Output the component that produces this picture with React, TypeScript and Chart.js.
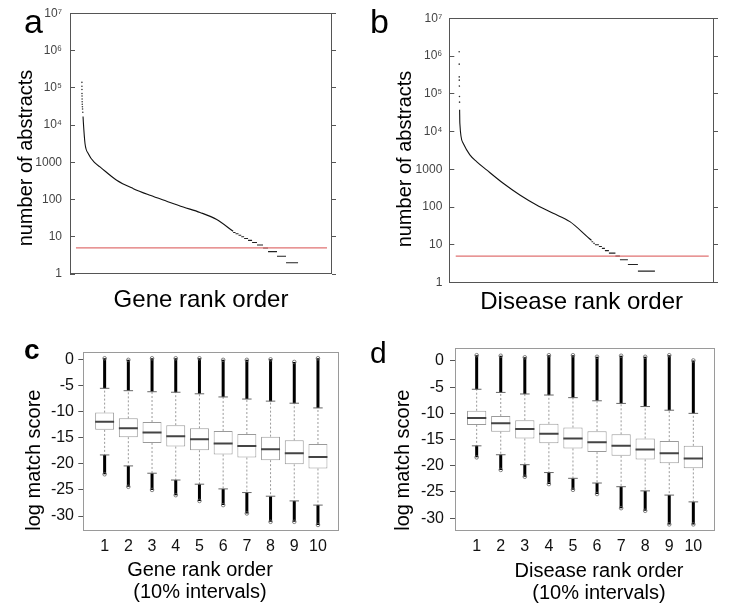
import React, { useEffect, useRef } from 'react';
import { Chart, registerables } from 'chart.js';

Chart.register(...registerables);

const FONT = "'Liberation Sans', Arial, Helvetica, sans-serif";
Chart.defaults.font.family = FONT;
Chart.defaults.color = '#000';

// ---------- panel a: genes, number of abstracts by rank ----------
const geneTopRanks = [1, 2, 4, 7, 11, 16, 22, 30, 40, 55, 75];
const geneTopCounts = [140000, 110000, 90000, 70000, 60000, 50000, 42000, 36000, 31000, 27000, 22000];
const geneCurveRanks = [95, 120, 260, 540, 1100, 1520, 2920, 4320, 5720, 7120, 8510, 9920, 11320, 12700];
const geneCurveCounts = [17000, 12000, 3200, 1700, 960, 750, 330, 196, 130, 90, 63, 45, 29, 14];
const geneStepStarts = [12700, 12900, 13150, 13380, 13620, 13950, 14290, 14700, 15210, 15630, 16380, 17140];
const geneStepCounts = [13, 12, 11, 10, 9, 8, 7, 6, 5, 4, 3, 2];
const geneLastRank = 18150;
const geneRankRange = [-1000, 21000];
const geneThresholdSpan = [-500, 20580];

// ---------- panel b: diseases, number of abstracts by rank ----------
const diseaseTopRanks = [1, 2, 3, 4, 6, 9, 11];
const diseaseTopCounts = [1300000, 610000, 280000, 230000, 160000, 85000, 60000];
const diseaseCurveRanks = [13, 19, 107, 284, 461, 726, 1165, 1606, 2048, 2487, 2929, 3371, 3500];
const diseaseCurveCounts = [38000, 16600, 4900, 2400, 1600, 960, 425, 208, 113, 68, 41, 17, 13];
const diseaseStepStarts = [3500, 3545, 3590, 3696, 3775, 3855, 3961, 4133, 4252, 4463, 4728];
const diseaseStepCounts = [12, 11, 10, 9, 8, 7, 6, 5, 4, 3, 2];
const diseaseLastRank = 5178;
const diseaseRankRange = [-260, 6740];
const diseaseThresholdSpan = [-90, 6600];

const thresholdCount = 5;
const abstractTicks = [1, 10, 100, 1000, 10000, 100000, 1000000, 10000000];
const abstractTickLabels = ['1', '10', '100', '1000', '10⁴', '10⁵', '10⁶', '10⁷'];

// ---------- panels c, d: log match score by rank decile ----------
const deciles = [1, 2, 3, 4, 5, 6, 7, 8, 9, 10];
const scoreTicks = [-30, -25, -20, -15, -10, -5, 0];

const geneQ1 = [-13.5, -14.9, -16.0, -16.7, -17.4, -18.2, -18.8, -19.3, -20.1, -20.9];
const geneMedian = [-11.95, -13.2, -14.0, -14.7, -15.3, -16.1, -16.6, -17.2, -18.0, -18.7];
const geneQ3 = [-10.2, -11.3, -12.0, -12.6, -13.2, -13.7, -14.3, -14.8, -15.5, -16.2];
const geneWhiskerLow = [-18.3, -20.4, -21.8, -23.1, -23.9, -24.8, -25.5, -26.2, -27.1, -27.9];
const geneWhiskerHigh = [-5.55, -6.0, -6.2, -6.3, -6.6, -7.2, -7.6, -8.0, -8.4, -9.3];
const geneOutMin = [-22.0, -24.4, -25.0, -26.0, -27.1, -27.9, -29.5, -31.1, -31.1, -31.7];
const geneOutMax = [0.2, -0.1, 0.2, 0.2, 0.2, -0.1, -0.1, 0.0, -0.5, 0.2];
const geneScoreRange = [-32.8, 1.46];

const diseaseQ1 = [-12.2, -13.5, -14.8, -15.7, -16.7, -17.4, -18.1, -18.8, -19.5, -20.5];
const diseaseMedian = [-10.9, -11.9, -13.0, -13.9, -14.8, -15.5, -16.2, -16.9, -17.6, -18.6];
const diseaseQ3 = [-9.5, -10.5, -11.3, -12.0, -12.7, -13.4, -14.0, -14.8, -15.3, -16.2];
const diseaseWhiskerLow = [-16.2, -17.9, -19.8, -21.3, -22.4, -23.3, -24.0, -24.8, -25.6, -26.9];
const diseaseWhiskerHigh = [-5.4, -6.0, -6.3, -6.5, -7.0, -7.6, -8.1, -8.7, -9.4, -10.0];
const diseaseOutMin = [-18.4, -20.8, -22.1, -23.5, -24.6, -25.4, -28.1, -28.6, -31.2, -31.2];
const diseaseOutMax = [1.1, 1.0, 0.7, 1.1, 1.1, 0.8, 1.0, 0.8, 1.1, 0.1];
const diseaseScoreRange = [-32.4, 2.42];

const BOX_HALF = 0.4;
const CAP_HALF = 0.2;

// ---------- helpers ----------
const toPoints = (xs: number[], ys: number[]) => xs.map((x, i) => ({ x, y: ys[i] }));

function stepSegments(starts: number[], counts: number[], lastRank: number) {
  const out: any[] = [];
  counts.forEach((v, i) => {
    const end = i + 1 < starts.length ? starts[i + 1] : lastRank;
    out.push({ x: starts[i], y: v }, { x: end, y: v }, { x: end, y: null });
  });
  return out;
}

const noPad = (s: any) => {
  s.paddingTop = 0;
  s.paddingBottom = 0;
  s.paddingLeft = 0;
  s.paddingRight = 0;
};

const framePlugin = {
  id: 'frame',
  afterDatasetsDraw(chart: any, _args: any, opts: any) {
    const { ctx, chartArea: a } = chart;
    ctx.save();
    ctx.strokeStyle = opts.color;
    ctx.lineWidth = 1;
    const l = Math.round(a.left) + 0.5;
    const t = Math.round(a.top) + 0.5;
    const r = Math.round(a.right) - 0.5;
    const b = Math.round(a.bottom) - 0.5;
    ctx.strokeRect(l, t, r - l, b - t);
    ctx.restore();
  },
};

// panel letters and free-standing titles
const textPlugin = {
  id: 'texts',
  afterDraw(chart: any, _args: any, opts: any) {
    const ctx = chart.ctx;
    (opts.items || []).forEach((it: any) => {
      ctx.save();
      ctx.font = it.font;
      ctx.fillStyle = '#000';
      ctx.textBaseline = it.baseline || 'middle';
      ctx.textAlign = it.align || 'center';
      ctx.translate(it.x, it.y);
      if (it.rotate) ctx.rotate(it.rotate);
      ctx.fillText(it.text, 0, 0);
      ctx.restore();
    });
  },
};

function rankConfig(p: any) {
  return {
    type: 'scatter',
    data: {
      datasets: [
        {
          label: 'threshold',
          data: [
            { x: p.thresholdSpan[0], y: thresholdCount },
            { x: p.thresholdSpan[1], y: thresholdCount },
          ],
          showLine: true,
          borderColor: '#e07272',
          borderWidth: 1.2,
          pointRadius: 0,
          yAxisID: 'y',
        },
        {
          label: 'top ranks',
          data: toPoints(p.topRanks, p.topCounts),
          showLine: false,
          pointRadius: 0.8,
          pointBackgroundColor: '#333',
          pointBorderWidth: 0,
          yAxisID: 'y',
        },
        {
          label: 'curve',
          data: toPoints(p.curveRanks, p.curveCounts),
          showLine: true,
          cubicInterpolationMode: 'monotone',
          borderColor: '#111',
          borderWidth: 1.1,
          pointRadius: 0,
          yAxisID: 'y',
        },
        {
          label: 'steps',
          data: stepSegments(p.stepStarts, p.stepCounts, p.lastRank),
          showLine: true,
          spanGaps: false,
          borderColor: '#222',
          borderWidth: 1.1,
          pointRadius: 0,
          yAxisID: 'y',
        },
      ],
    },
    options: {
      responsive: false,
      animation: false,
      events: [],
      layout: { padding: { top: p.padTop, left: 0, right: 0, bottom: 0 } },
      plugins: {
        legend: { display: false },
        tooltip: { enabled: false },
        frame: { color: '#555' },
        texts: { items: p.texts },
      },
      scales: {
        x: {
          type: 'linear',
          min: p.range[0],
          max: p.range[1],
          ticks: { display: false },
          grid: { display: false },
          border: { display: false },
          title: {
            display: true,
            text: p.xTitle,
            font: { size: 24 },
            color: '#000',
            padding: { top: 0, bottom: p.xTitlePad },
          },
          afterFit: (s: any) => {
            s.height = p.xAxisHeight;
            noPad(s);
          },
        },
        y: {
          type: 'logarithmic',
          position: 'left',
          min: 1,
          max: 10000000,
          afterBuildTicks: (s: any) => {
            s.ticks = abstractTicks.map((v) => ({ value: v }));
          },
          ticks: {
            callback: (_v: any, i: number) => abstractTickLabels[i],
            font: { size: 12 },
            color: '#444',
            padding: p.tickPadding,
            autoSkip: false,
          },
          grid: { drawOnChartArea: false, tickLength: -5, color: '#555' },
          border: { display: false },
          afterFit: (s: any) => {
            s.width = p.yAxisWidth;
            noPad(s);
          },
        },
        yR: {
          type: 'logarithmic',
          position: 'right',
          min: 1,
          max: 10000000,
          afterBuildTicks: (s: any) => {
            s.ticks = abstractTicks.map((v) => ({ value: v }));
          },
          ticks: { display: false },
          grid: { drawOnChartArea: false, tickLength: 4, color: '#555' },
          border: { display: false },
          afterFit: (s: any) => {
            s.width = p.rightAxisWidth;
            noPad(s);
          },
        },
      },
    },
    plugins: [framePlugin, textPlugin],
  };
}

function boxConfig(p: any) {
  const medians: any[] = [];
  const caps: any[] = [];
  const whiskers: any[] = [];
  const bands: any[] = [];
  const extremes: any[] = [];
  deciles.forEach((d, i) => {
    medians.push({ x: d - BOX_HALF, y: p.median[i] }, { x: d + BOX_HALF, y: p.median[i] }, { x: d + BOX_HALF, y: null });
    caps.push(
      { x: d - CAP_HALF, y: p.whiskerHigh[i] }, { x: d + CAP_HALF, y: p.whiskerHigh[i] }, { x: d + CAP_HALF, y: null },
      { x: d - CAP_HALF, y: p.whiskerLow[i] }, { x: d + CAP_HALF, y: p.whiskerLow[i] }, { x: d + CAP_HALF, y: null },
    );
    whiskers.push(
      { x: d, y: p.q3[i] }, { x: d, y: p.whiskerHigh[i] }, { x: d, y: null },
      { x: d, y: p.q1[i] }, { x: d, y: p.whiskerLow[i] }, { x: d, y: null },
    );
    bands.push(
      { x: d, y: p.whiskerHigh[i] }, { x: d, y: p.outMax[i] }, { x: d, y: null },
      { x: d, y: p.outMin[i] }, { x: d, y: p.whiskerLow[i] }, { x: d, y: null },
    );
    extremes.push({ x: d, y: p.outMax[i] }, { x: d, y: p.outMin[i] });
  });
  const line = (label: string, data: any[], extra: any) => ({
    type: 'line',
    label,
    data,
    spanGaps: false,
    pointRadius: 0,
    fill: false,
    ...extra,
  });
  return {
    type: 'bar',
    data: {
      datasets: [
        line('median', medians, { borderColor: '#444', borderWidth: 2 }),
        line('caps', caps, { borderColor: '#666', borderWidth: 1 }),
        {
          type: 'bar',
          label: 'IQR',
          data: deciles.map((d, i) => ({ x: d, y: [p.q1[i], p.q3[i]] })),
          backgroundColor: '#fff',
          borderColor: '#9a9a9a',
          borderWidth: 1,
          borderSkipped: false,
          barPercentage: 0.8,
          categoryPercentage: 1,
        },
        line('extremes', extremes, {
          showLine: false,
          pointRadius: 1.8,
          pointBorderWidth: 0.8,
          pointBorderColor: '#666',
          pointBackgroundColor: 'rgba(0,0,0,0)',
        }),
        line('outliers', bands, { borderColor: '#000', borderWidth: 3 }),
        line('whiskers', whiskers, { borderColor: '#9a9a9a', borderWidth: 1, borderDash: [2, 2] }),
      ],
    },
    options: {
      responsive: false,
      animation: false,
      events: [],
      layout: { padding: { top: p.padTop, right: p.padRight, left: 0, bottom: 0 } },
      plugins: {
        legend: { display: false },
        tooltip: { enabled: false },
        frame: { color: '#9a9a9a' },
        texts: { items: p.texts },
      },
      scales: {
        x: {
          type: 'linear',
          min: 0.1,
          max: 10.9,
          offset: false,
          afterBuildTicks: (s: any) => {
            s.ticks = deciles.map((v) => ({ value: v }));
          },
          ticks: {
            callback: (v: any) => String(v),
            font: { size: 16 },
            color: '#111',
            padding: -2,
            autoSkip: false,
            maxRotation: 0,
          },
          grid: { display: false },
          border: { display: false },
          afterFit: (s: any) => {
            s.height = p.xAxisHeight;
            noPad(s);
          },
        },
        y: {
          type: 'linear',
          min: p.range[0],
          max: p.range[1],
          afterBuildTicks: (s: any) => {
            s.ticks = scoreTicks.map((v) => ({ value: v }));
          },
          ticks: {
            callback: (v: any) => String(v),
            font: { size: 16 },
            color: '#111',
            padding: p.tickPadding,
            autoSkip: false,
          },
          grid: { drawOnChartArea: false, tickLength: 5, color: '#555' },
          border: { display: false },
          title: {
            display: true,
            text: 'log match score',
            align: 'start',
            font: { size: 20 },
            color: '#000',
            padding: { top: p.yTitlePad, bottom: 0 },
          },
          afterFit: (s: any) => {
            s.width = p.yAxisWidth;
            noPad(s);
          },
        },
      },
    },
    plugins: [framePlugin, textPlugin],
  };
}

function Panel({ left, top, width, height, makeConfig }: any) {
  const ref = useRef<HTMLCanvasElement>(null);
  useEffect(() => {
    const chart = new Chart(ref.current as HTMLCanvasElement, makeConfig() as any);
    return () => chart.destroy();
  }, []);
  return (
    <canvas
      ref={ref}
      width={width}
      height={height}
      style={{ position: 'absolute', left, top, width, height, display: 'block' }}
    />
  );
}

const TITLE20 = '20px ' + FONT;
const UP = -Math.PI / 2;

const panelA = () =>
  rankConfig({
    topRanks: geneTopRanks,
    topCounts: geneTopCounts,
    curveRanks: geneCurveRanks,
    curveCounts: geneCurveCounts,
    stepStarts: geneStepStarts,
    stepCounts: geneStepCounts,
    lastRank: geneLastRank,
    range: geneRankRange,
    thresholdSpan: geneThresholdSpan,
    xTitle: 'Gene rank order',
    padTop: 13.3,
    yAxisWidth: 70,
    rightAxisWidth: 38,
    xAxisHeight: 46,
    xTitlePad: 5.6,
    tickPadding: 13,
    texts: [
      { text: 'a', x: 24, y: 33, font: '34px ' + FONT, align: 'left', baseline: 'alphabetic' },
      { text: 'number of abstracts', x: 26, y: 158, font: TITLE20, rotate: UP },
    ],
  });

const panelB = () =>
  rankConfig({
    topRanks: diseaseTopRanks,
    topCounts: diseaseTopCounts,
    curveRanks: diseaseCurveRanks,
    curveCounts: diseaseCurveCounts,
    stepStarts: diseaseStepStarts,
    stepCounts: diseaseStepCounts,
    lastRank: diseaseLastRank,
    range: diseaseRankRange,
    thresholdSpan: diseaseThresholdSpan,
    xTitle: 'Disease rank order',
    padTop: 18.3,
    yAxisWidth: 79.3,
    rightAxisWidth: 27,
    xAxisHeight: 37.5,
    xTitlePad: 3.6,
    tickPadding: 12,
    texts: [
      { text: 'b', x: 0, y: 33, font: '34px ' + FONT, align: 'left', baseline: 'alphabetic' },
      { text: 'number of abstracts', x: 35.5, y: 159, font: TITLE20, rotate: UP },
    ],
  });

const panelC = () =>
  boxConfig({
    q1: geneQ1,
    median: geneMedian,
    q3: geneQ3,
    whiskerLow: geneWhiskerLow,
    whiskerHigh: geneWhiskerHigh,
    outMin: geneOutMin,
    outMax: geneOutMax,
    range: geneScoreRange,
    padTop: 21.7,
    padRight: 30.7,
    yAxisWidth: 83.3,
    xAxisHeight: 76.3,
    tickPadding: 4.3,
    yTitlePad: 22,
    texts: [
      { text: 'c', x: 24, y: 29, font: 'bold 28px ' + FONT, align: 'left', baseline: 'alphabetic' },
      { text: 'Gene rank order', x: 200, y: 240, font: TITLE20 },
      { text: '(10% intervals)', x: 200, y: 262, font: TITLE20 },
    ],
  });

const panelD = () =>
  boxConfig({
    q1: diseaseQ1,
    median: diseaseMedian,
    q3: diseaseQ3,
    whiskerLow: diseaseWhiskerLow,
    whiskerHigh: diseaseWhiskerHigh,
    outMin: diseaseOutMin,
    outMax: diseaseOutMax,
    range: diseaseScoreRange,
    padTop: 18.3,
    padRight: 26,
    yAxisWidth: 85,
    xAxisHeight: 76.3,
    tickPadding: 6,
    yTitlePad: 21.3,
    texts: [
      { text: 'd', x: 0, y: 33, font: '30px ' + FONT, align: 'left', baseline: 'alphabetic' },
      { text: 'Disease rank order', x: 229, y: 241, font: TITLE20 },
      { text: '(10% intervals)', x: 229, y: 263, font: TITLE20 },
    ],
  });

export default function App() {
  return (
    <div style={{ position: 'absolute', left: 0, top: 0, width: 741, height: 607, background: '#fff', overflow: 'hidden' }}>
      <Panel left={0} top={0} width={370} height={320} makeConfig={panelA} />
      <Panel left={370} top={0} width={371} height={320} makeConfig={panelB} />
      <Panel left={0} top={330} width={370} height={277} makeConfig={panelC} />
      <Panel left={370} top={330} width={371} height={277} makeConfig={panelD} />
    </div>
  );
}
